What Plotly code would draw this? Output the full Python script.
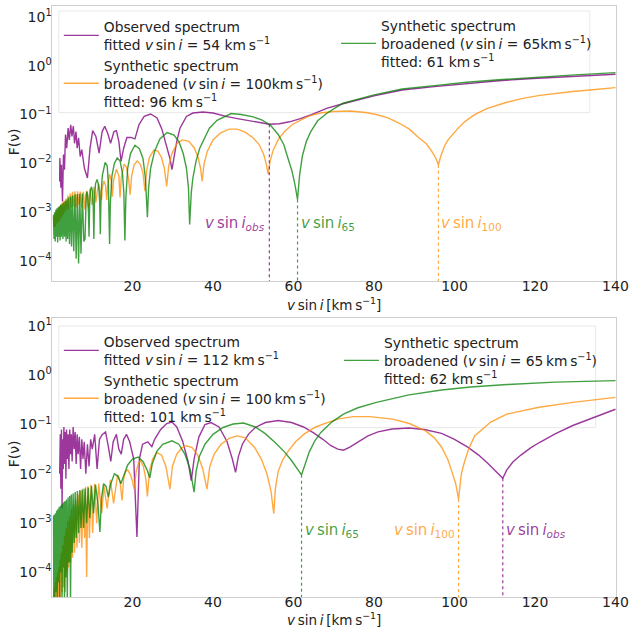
import plotly.graph_objects as go

# ---------------- upper panel (observed star fitted at 54 km/s) ----------------
# values are log10 F(nu)
top_obs_vsini = [1.9, 1.95, 2.2, 2.35, 2.6, 2.85, 3.1, 3.35, 3.65, 4.0, 4.3, 4.65, 4.95, 5.3, 5.6, 5.95,
                 6.25, 6.6, 7.0, 7.4, 8.05, 8.8, 9.45, 10.1, 10.9, 11.7, 12.45, 13.1, 13.9, 14.55, 15.4,
                 16.0, 16.6, 17.15, 17.8, 18.6, 19.6, 20.6, 21.6, 22.9, 24.5, 26.1, 27.3, 28.3, 29.3,
                 29.8, 30.3, 31.0, 31.8, 33.4, 35.0, 37.5, 40.0, 43.2, 46.4, 49.7, 52.0, 54.0, 56.5,
                 59.0, 61.5, 64.3, 68.4, 72.3, 80, 87, 95, 103, 111, 119.5, 130, 140]
top_obs_logF = [-2.37, -1.89, -2.5, -2.03, -2.78, -1.82, -2.13, -1.41, -1.69, -1.28, -1.52, -1.21, -1.45,
                -1.24, -1.59, -1.35, -1.69, -1.48, -1.86, -1.72, -2.10, -2.30, -1.69, -1.33, -1.45, -1.79,
                -1.35, -1.24, -1.40, -1.59, -1.35, -1.33, -1.55, -1.96, -1.69, -1.47, -1.47, -1.50, -1.21,
                -1.04, -0.99, -1.07, -1.3, -1.6, -1.9, -2.13, -1.85, -1.55, -1.28, -1.04, -0.97, -0.95,
                -0.97, -1.04, -1.09, -1.14, -1.18, -1.2, -1.19, -1.15, -1.09, -1.01, -0.87, -0.78, -0.62,
                -0.5, -0.43, -0.365, -0.31, -0.265, -0.22, -0.177]

top_s100_vsini = [0.35, 0.5, 0.65, 0.8, 0.95, 1.1, 1.25, 1.4, 1.55, 1.7, 1.85, 2.0, 2.2, 2.4, 2.6, 2.8, 3.0,
                  3.2, 3.45, 3.7, 3.95, 4.2, 4.5, 4.8, 5.1, 5.4, 5.7, 6.0, 6.35, 6.7, 7.05, 7.4, 7.8, 8.2,
                  8.6, 9.0, 9.45, 9.9, 10.4, 10.9, 11.5, 12.3, 12.5, 12.9, 13.3, 13.6, 13.85, 14.3, 14.7,
                  15.0, 15.3, 16.0, 16.6, 16.9, 17.2, 17.9, 18.5, 19.0, 19.4, 19.8, 20.4, 21.2, 22.0, 22.6,
                  23.1, 23.5, 24.2, 25.3, 26.3, 27.2, 27.9, 28.5, 29.0, 29.8, 31.0, 32.4, 34.0, 35.3, 36.3,
                  36.9, 37.3, 37.8, 38.6, 40.0, 41.8, 44.0, 46.0, 48.0, 50.0, 51.5, 52.6, 53.2, 53.7, 54.2,
                  55.0, 56.3, 57.8, 59.8, 61.9, 64.0, 66.7, 70.0, 74.0, 78.0, 80.6, 83.5, 86.3, 88.8,
                  91.2, 93.0, 94.4, 95.4, 96.0, 96.6, 97.5, 98.4, 100.9, 102.5, 104.9, 108, 113, 117,
                  121.2, 125, 129.4, 135, 140]
top_s100_logF = [-3.1, -3.3, -3.05, -3.3, -3.0, -3.25, -2.95, -3.2, -2.92, -3.2, -2.88, -3.15, -2.85, -3.1,
                 -2.8, -3.05, -2.76, -3.0, -2.72, -2.95, -2.66, -2.95, -2.62, -2.9, -2.58, -2.88, -2.57,
                 -2.9, -2.57, -2.85, -2.58, -2.9, -2.58, -2.95, -2.56, -2.9, -2.52, -2.85, -2.48, -2.8,
                 -2.42, -2.75, -2.5, -2.36, -2.45, -2.75, -2.45, -2.22, -2.35, -2.68, -2.35, -2.12, -2.25,
                 -2.7, -2.3, -2.02, -2.08, -2.3, -2.64, -2.25, -2.03, -1.95, -2.03, -2.2, -2.57, -2.15,
                 -1.88, -1.73, -1.75, -1.88, -2.1, -2.47, -2.05, -1.8, -1.6, -1.52, -1.55, -1.68, -1.88,
                 -2.1, -2.37, -2.0, -1.75, -1.52, -1.38, -1.3, -1.3, -1.36, -1.48, -1.62, -1.82, -2.0,
                 -2.22, -1.95, -1.72, -1.5, -1.35, -1.2, -1.11, -1.03, -0.97, -0.94, -0.93, -0.96, -1.0,
                 -1.07, -1.18, -1.3, -1.48, -1.6, -1.76, -1.9, -2.03, -1.85, -1.65, -1.52, -1.28, -1.15,
                 -1.01, -0.88, -0.75, -0.67, -0.61, -0.57, -0.53, -0.49, -0.45]

top_s65_vsini = [0.35, 0.5, 0.65, 0.8, 0.95, 1.1, 1.25, 1.4, 1.55, 1.7, 1.85, 2.0, 2.15, 2.3, 2.5, 2.7, 2.9,
                 3.1, 3.3, 3.5, 3.7, 3.9, 4.1, 4.35, 4.6, 4.85, 5.1, 5.4, 5.7, 6.0, 6.3, 6.6, 6.9, 7.2,
                 7.55, 7.9, 8.2, 8.35, 8.5, 8.7, 8.9, 9.05, 9.2, 9.35, 9.55, 9.8, 10.05, 10.25, 10.4,
                 10.55, 10.8, 11.2, 11.6, 11.85, 12.0, 12.2, 12.5, 13.2, 13.7, 14.0, 14.3, 14.5, 14.9,
                 15.5, 16.2, 16.9, 17.5, 17.85, 18.1, 18.35, 18.8, 19.5, 20.6, 21.7, 22.6, 23.2, 23.5,
                 23.7, 24.0, 24.5, 25.5, 26.8, 28.6, 30.3, 31.5, 32.6, 33.4, 33.9, 34.2, 34.6, 35.0, 35.8,
                 36.7, 38.0, 39.1, 41.0, 44.5, 47.0, 50.0, 52.1, 54.3, 56.2, 57.6, 58.6, 59.6, 60.4, 61.0,
                 61.5, 62.2, 63.2, 64.3, 66.0, 68.4, 70.5, 72.3, 80, 87, 95, 103, 111, 119.5, 130, 140]
top_s65_logF = [-3.05, -3.55, -3.0, -3.6, -2.95, -3.5, -2.92, -3.62, -2.9, -3.5, -2.88, -3.58, -2.85, -3.5,
                -2.82, -3.55, -2.8, -3.5, -2.77, -3.6, -2.74, -3.55, -2.7, -3.65, -2.68, -3.7, -2.66, -3.8,
                -2.64, -3.95, -2.63, -4.05, -2.62, -3.85, -2.62, -3.6, -3.55, -2.9, -2.65, -2.58, -2.68,
                -3.0, -3.5, -2.85, -2.55, -2.48, -2.58, -2.9, -3.55, -2.75, -2.42, -2.33, -2.45, -2.8,
                -3.45, -2.6, -2.25, -1.98, -2.05, -2.4, -3.65, -2.8, -2.25, -2.0, -1.89, -1.95, -2.2,
                -2.6, -3.58, -2.7, -2.1, -1.8, -1.63, -1.7, -1.9, -2.3, -2.7, -3.1, -2.5, -2.1, -1.75,
                -1.5, -1.37, -1.42, -1.55, -1.8, -2.1, -2.5, -3.25, -2.6, -2.3, -1.95, -1.69, -1.45, -1.28,
                -1.12, -0.98, -1.0, -1.05, -1.11, -1.22, -1.41, -1.62, -1.89, -2.15, -2.45, -2.74, -2.25,
                -1.85, -1.55, -1.35, -1.13, -0.97, -0.86, -0.77, -0.6, -0.48, -0.41, -0.34, -0.29, -0.24,
                -0.19, -0.143]

# ---------------- lower panel (observed star fitted at 112 km/s) ----------------
bot_obs_vsini = [1.9, 2.05, 2.2, 2.35, 2.5, 2.65, 2.8, 2.95, 3.1, 3.3, 3.45, 3.6, 3.8, 4.0, 4.2, 4.4, 4.6,
                 4.8, 5.0, 5.25, 5.5, 5.75, 6.0, 6.25, 6.5, 6.8, 7.1, 7.4, 7.7, 8.0, 8.4, 8.8, 9.2, 9.6,
                 10.0, 10.6, 11.2, 11.8, 12.5, 13.3, 14.0, 14.6, 15.2, 16.0, 16.6, 17.2, 17.8, 18.5, 19.3,
                 20.3, 21.1, 21.7, 22.5, 23.8, 24.8, 25.5, 27, 28.5, 29.8, 31, 32.5, 33.8, 34.6, 35.3,
                 36.5, 38, 39.5, 41.5, 43.5, 44.8, 45.6, 46.3, 47.3, 48.8, 50.5, 53, 56.2, 59.5, 62.5,
                 65, 67.3, 69.3, 71, 72.4, 74, 76, 78.5, 81, 84.5, 88.7, 92.5, 96.8, 100, 103.3, 106,
                 108.2, 110.3, 112, 113, 114.5, 116.5, 119, 121.2, 125, 129.4, 134, 140]
bot_obs_logF = [-2.0, -1.2, -2.3, -1.1, -2.7, -1.3, -1.9, -1.05, -1.8, -1.15, -2.1, -1.1, -1.7, -1.2, -1.9,
                -1.1, -1.6, -1.2, -1.75, -1.05, -1.5, -1.15, -1.8, -1.2, -1.6, -1.25, -1.9, -1.3, -1.7,
                -1.35, -2.0, -1.4, -1.85, -1.3, -1.5, -1.2, -1.9, -1.3, -1.2, -1.15, -1.45, -1.75, -1.35,
                -1.2, -1.5, -1.6, -1.3, -1.2, -1.35, -1.7, -3.28, -1.7, -1.4, -1.35, -1.45, -1.3, -1.1,
                -0.98, -0.95, -1.05, -1.35, -1.75, -2.14, -1.7, -1.25, -1.0, -0.96, -1.05, -1.35, -1.7,
                -1.97, -1.65, -1.4, -1.2, -1.06, -0.96, -0.92, -0.96, -1.05, -1.17, -1.3, -1.43, -1.5,
                -1.52, -1.46, -1.36, -1.23, -1.15, -1.09, -1.07, -1.1, -1.18, -1.3, -1.46, -1.62, -1.78,
                -1.95, -2.09, -1.92, -1.76, -1.62, -1.47, -1.36, -1.19, -1.02, -0.87, -0.69]

bot_s100_vsini = [0.35, 0.5, 0.65, 0.8, 0.95, 1.1, 1.25, 1.4, 1.55, 1.7, 1.85, 2.0, 2.15, 2.3, 2.5, 2.7,
                  2.9, 3.1, 3.3, 3.5, 3.7, 3.9, 4.1, 4.35, 4.6, 4.85, 5.1, 5.35, 5.6, 5.9, 6.2, 6.5, 6.8,
                  7.1, 7.4, 7.75, 8.1, 8.35, 8.6, 8.9, 9.3, 9.7, 10.1, 10.6, 11.1, 11.6, 12.35, 12.9,
                  13.7, 14.5, 15.3, 16.3, 16.9, 17.4, 17.8, 18.3, 18.8, 19.5, 20.0, 20.4, 20.9, 21.5, 22.0,
                  22.7, 23.3, 23.7, 24.2, 25.0, 26.1, 27.2, 28.3, 29.3, 29.9, 31.0, 32.3, 33.4, 34.8, 36.2,
                  37.4, 38.5, 39.2, 40.3, 42.0, 44.0, 46.0, 48.0, 50.3, 52.0, 53.4, 54.4, 55.1, 55.5, 56.2,
                  57.3, 58.6, 60.5, 62.7, 65.5, 68.4, 71.5, 74.9, 79, 84.6, 88.8, 92.8, 95, 96.8, 98.3,
                  99.3, 100.3, 101, 101.7, 102.5, 103.5, 105, 109, 113, 121, 129.4, 140]
bot_s100_logF = [-4.6, -4.3, -4.6, -4.2, -4.6, -4.1, -4.6, -4.0, -4.6, -3.9, -4.6, -3.75, -4.5, -3.6, -4.4,
                 -3.45, -4.3, -3.25, -4.4, -3.1, -4.0, -2.95, -3.9, -2.85, -3.8, -2.72, -3.7, -2.62, -3.6,
                 -2.52, -3.5, -2.42, -3.4, -2.35, -3.5, -2.3, -3.3, -2.26, -4.09, -2.25, -3.3, -2.22, -3.2,
                 -2.2, -3.0, -2.2, -2.8, -2.25, -2.7, -2.12, -2.6, -2.02, -2.15, -2.54, -2.1, -1.95, -1.92,
                 -2.02, -2.15, -2.31, -1.95, -1.78, -1.73, -1.85, -2.1, -2.46, -1.95, -1.7, -1.57, -1.62,
                 -1.85, -2.31, -1.85, -1.6, -1.47, -1.43, -1.47, -1.62, -1.88, -2.31, -1.85, -1.6, -1.4,
                 -1.28, -1.23, -1.27, -1.46, -1.7, -2.0, -2.35, -2.81, -2.3, -1.95, -1.72, -1.55, -1.35,
                 -1.19, -1.05, -0.96, -0.88, -0.84, -0.84, -0.89, -0.98, -1.13, -1.27, -1.46, -1.7, -1.94,
                 -2.2, -2.51, -2.0, -1.75, -1.5, -1.23, -0.95, -0.79, -0.65, -0.55, -0.45]

bot_s65_vsini = [0.35, 0.45, 0.55, 0.7, 0.85, 1.0, 1.15, 1.3, 1.45, 1.6, 1.75, 1.9, 2.05, 2.2, 2.35, 2.5,
                 2.65, 2.8, 2.95, 3.1, 3.25, 3.4, 3.6, 3.8, 4.0, 4.2, 4.4, 4.6, 4.8, 5.0, 5.25, 5.5, 5.75,
                 6.0, 6.3, 6.6, 6.9, 7.2, 7.5, 7.85, 8.2, 8.6, 9.0, 9.4, 9.8, 10.3, 10.8, 11.4, 11.9,
                 12.3, 12.8, 13.4, 14.0, 14.6, 15.5, 16.4, 17.1, 17.8, 18.8, 20.0, 21.4, 22.6, 23.6, 24.3,
                 24.9, 26.0, 27.5, 29.8, 31.5, 33.0, 34.3, 35.3, 35.8, 36.6, 38.0, 40.0, 42.5, 45.0, 47.6,
                 50.5, 52.9, 55.5, 57.8, 59.5, 60.6, 61.4, 62.0, 62.7, 63.9, 65.3, 66.8, 69.5, 72.4, 76,
                 80.6, 88.7, 96.8, 104, 113.1, 125, 140]
bot_s65_logF = [-2.85, -4.6, -2.83, -4.6, -2.8, -4.4, -2.75, -4.6, -2.72, -4.2, -2.68, -4.6, -2.65, -4.0,
                -2.62, -4.5, -2.6, -3.9, -2.57, -4.6, -2.55, -4.1, -2.52, -4.6, -2.48, -3.8, -2.45, -4.6,
                -2.42, -3.6, -2.4, -3.4, -2.37, -3.3, -2.35, -3.2, -2.33, -3.1, -2.32, -3.1, -2.3, -3.0,
                -2.28, -2.9, -2.25, -2.8, -2.22, -2.6, -3.18, -2.5, -2.2, -2.25, -2.47, -2.2, -2.0, -2.05,
                -2.2, -2.05, -1.82, -1.7, -1.66, -1.75, -1.92, -2.08, -1.8, -1.55, -1.4, -1.33, -1.4,
                -1.6, -1.9, -2.37, -1.95, -1.65, -1.4, -1.2, -1.06, -0.99, -0.97, -1.05, -1.18, -1.37,
                -1.56, -1.73, -1.87, -1.95, -2.02, -1.85, -1.56, -1.33, -1.16, -0.95, -0.79, -0.66, -0.55,
                -0.4, -0.3, -0.24, -0.19, -0.14, -0.11]

# fitted rotational velocities marked on each panel and the curve level at that point
top_marks = [("obs", 54, -1.2), ("65", 61, -2.74), ("100", 96, -2.03)]
bot_marks = [("65", 62, -2.02), ("100", 101, -2.51), ("obs", 112, -2.09)]

PURPLE = "rgba(128,0,128,0.78)"
ORANGE = "rgba(255,140,0,0.75)"
GREEN = "rgba(0,128,0,0.75)"
COL = {"obs": PURPLE, "100": ORANGE, "65": GREEN}
FONT = "DejaVu Sans"
VSINI = "<i>v</i>\u2009sin\u2009<i>i</i>"
KMS = "km\u2009s<sup>\u22121</sup>"

TOP_YR = [-4.41, 1.22]
BOT_YR = [-4.5, 1.16]
XR = [0.1, 140.2]


def F(logs):
    return [10 ** v for v in logs]


fig = go.Figure()

panels = [
    ("x", "y", "legend", "legend2", TOP_YR, top_marks,
     (top_obs_vsini, top_obs_logF, f"Observed spectrum<br>fitted {VSINI} = 54 {KMS}"),
     (top_s100_vsini, top_s100_logF,
      f"Synthetic spectrum<br>broadened ({VSINI} = 100{KMS})<br>fitted: 96 {KMS}"),
     (top_s65_vsini, top_s65_logF,
      f"Synthetic spectrum<br>broadened ({VSINI} = 65{KMS})<br>fitted: 61 {KMS}")),
    ("x2", "y2", "legend3", "legend4", BOT_YR, bot_marks,
     (bot_obs_vsini, bot_obs_logF, f"Observed spectrum<br>fitted {VSINI} = 112 {KMS}"),
     (bot_s100_vsini, bot_s100_logF,
      f"Synthetic spectrum<br>broadened ({VSINI} = 100\u2009{KMS})<br>fitted: 101 {KMS}"),
     (bot_s65_vsini, bot_s65_logF,
      f"Synthetic spectrum<br>broadened ({VSINI} = 65\u2009{KMS})<br>fitted: 62 {KMS}")),
]

for xa, ya, lg1, lg2, yr, marks, obs, s100, s65 in panels:
    for (xs, ls, name), col, lg in ((obs, PURPLE, lg1), (s100, ORANGE, lg1), (s65, GREEN, lg2)):
        fig.add_trace(go.Scatter(x=xs, y=F(ls), mode="lines", name=name, xaxis=xa, yaxis=ya,
                                 line=dict(color=col, width=1.4), legend=lg))
    for key, v, lev in marks:
        fig.add_trace(go.Scatter(x=[v, v], y=[10 ** lev, 10 ** (yr[0] - 0.5)], mode="lines",
                                 xaxis=xa, yaxis=ya, showlegend=False, hoverinfo="skip",
                                 line=dict(color=COL[key], width=1.2, dash="dot")))

# --- labels next to the dotted markers ---
sub = {"obs": "<sub><i>obs</i></sub>", "65": "<sub>65</sub>", "100": "<sub>100</sub>"}
label_side = {("x", "obs"): "right", ("x", "65"): "left", ("x", "100"): "left",
              ("x2", "65"): "left", ("x2", "100"): "right", ("x2", "obs"): "left"}
for xa, ya, marks, ydom in (("x", "y", top_marks, 0.21), ("x2", "y2", bot_marks, 0.24)):
    for key, v, lev in marks:
        side = label_side[(xa, key)]
        fig.add_annotation(x=v, xref=xa, y=ydom, yref=f"{ya} domain", text=VSINI + sub[key],
                           showarrow=False, xanchor=side, yanchor="middle",
                           xshift=(1 if side == "left" else -2),
                           font=dict(family=FONT, size=15, color=COL[key]))

W, H = 643, 633
def px_x(p): return p / W
def px_y(p): return 1 - p / H

tickv = [1e-4, 1e-3, 1e-2, 1e-1, 1, 10]
tickt = ["10<sup>\u22124</sup>", "10<sup>\u22123</sup>", "10<sup>\u22122</sup>", "10<sup>\u22121</sup>",
         "10<sup>0</sup>", "10<sup>1</sup>"]
axis_common = dict(showline=True, mirror=True, linecolor="#cfcfcf", linewidth=1, showgrid=False,
                   zeroline=False, ticks="", ticklen=0, tickfont=dict(family=FONT, size=14, color="#222"))
xticks = dict(tickvals=[20, 40, 60, 80, 100, 120, 140], ticklabelstandoff=-8)
yticks = dict(tickvals=tickv, ticktext=tickt, ticklabelstandoff=-3)

xdom = [px_x(53.5), px_x(629)]
fig.update_layout(
    width=W, height=H, margin=dict(l=0, r=0, t=0, b=0),
    paper_bgcolor="white", plot_bgcolor="white",
    font=dict(family=FONT, size=14, color="#222"),
    xaxis=dict(domain=xdom, range=XR, anchor="y", **xticks, **axis_common),
    yaxis=dict(domain=[px_y(280), px_y(4)], type="log", range=TOP_YR, anchor="x", **yticks, **axis_common),
    xaxis2=dict(domain=xdom, range=XR, anchor="y2", **xticks, **axis_common),
    yaxis2=dict(domain=[px_y(597), px_y(317)], type="log", range=BOT_YR, anchor="x2", **yticks,
                **axis_common),
)

leg_common = dict(bgcolor="rgba(0,0,0,0)", borderwidth=0, xanchor="left", yanchor="top",
                  font=dict(family=FONT, size=13.8, color="#222"), itemwidth=35, tracegroupgap=3)
fig.update_layout(
    legend=dict(x=px_x(60), y=px_y(9), **leg_common),
    legend2=dict(x=px_x(343), y=px_y(8), **leg_common),
    legend3=dict(x=px_x(60), y=px_y(325), **leg_common),
    legend4=dict(x=px_x(346), y=px_y(326), **leg_common),
)

# legend frames
for x0, y0, x1, y1 in ((60, 9, 602, 111), (60, 325, 608, 427)):
    fig.add_shape(type="rect", xref="paper", yref="paper", x0=px_x(x0), x1=px_x(x1),
                  y0=px_y(y1), y1=px_y(y0), line=dict(color="#e8e8e8", width=1), layer="below")

# axis titles
for yc in (140, 453):
    fig.add_annotation(text="F(\u03bd)", xref="paper", yref="paper", x=px_x(14), y=px_y(yc),
                       xanchor="center", yanchor="middle", textangle=-90, showarrow=False,
                       font=dict(family=FONT, size=14, color="#222"))
for yc in (303, 619):
    fig.add_annotation(text=f"{VSINI}\u2009[{KMS}]", xref="paper", yref="paper", x=px_x(341),
                       y=px_y(yc), xanchor="center", yanchor="middle", showarrow=False,
                       font=dict(family=FONT, size=13.5, color="#222"))

fig.write_html("out.html")
